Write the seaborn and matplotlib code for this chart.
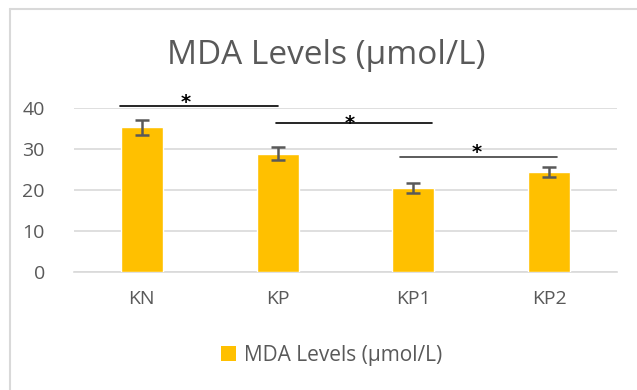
import matplotlib
matplotlib.use("Agg")
import matplotlib.pyplot as plt
import seaborn as sns
import pandas as pd
from matplotlib.patches import Patch
from matplotlib.lines import Line2D

categories = ["KN", "KP", "KP1", "KP2"]
mda_values = [35.3, 28.9, 20.5, 24.4]
mda_errors = [1.8, 1.6, 1.2, 1.3]
series_name = "MDA Levels (µmol/L)"
title = "MDA Levels (µmol/L)"
y_ticks = [0, 10, 20, 30, 40]
# significance brackets: (x_start, x_end, y)
sig_lines = [(-0.16, 1.0, 40.5), (0.99, 2.14, 36.3), (1.9, 3.06, 28.0)]
sig_stars = [(0.32, 39.9), (1.53, 34.8), (2.47, 27.7)]

sns.set_theme(style="white")
plt.rcParams["font.family"] = ["Open Sans", "DejaVu Sans"]

df = pd.DataFrame({"cat": categories, "val": mda_values})

fig = plt.figure(figsize=(6.37, 3.90), dpi=100)
ax = fig.add_axes([74/637, 1-272/390, (617-74)/637, (272-108)/390])

bar_color = "#FFC000"
sns.barplot(data=df, x="cat", y="val", color=bar_color, width=0.31,
            errorbar=None, ax=ax, saturation=1, zorder=3)
ax.errorbar(range(len(categories)), mda_values, yerr=mda_errors, fmt="none",
            ecolor="#595959", elinewidth=1.8, capsize=5, capthick=1.8, zorder=4)

ax.set_xlim(-0.5, 3.5)
ax.set_ylim(0, 40)
ax.set_yticks(y_ticks)
ax.yaxis.grid(True, color="#d9d9d9", linewidth=1.2, zorder=0)
ax.set_axisbelow(True)
for s in ["top", "right", "left"]:
    ax.spines[s].set_visible(False)
ax.spines["bottom"].set_color("#d9d9d9")
ax.spines["bottom"].set_linewidth(1.2)
ax.set_xlabel("")
ax.set_ylabel("")
ax.tick_params(axis="both", colors="#595959", labelsize=14, length=0)
ax.tick_params(axis="y", pad=21)
ax.tick_params(axis="x", pad=13)

line_colors = ["black", "black", "#404040"]
for (x0, x1, y), c in zip(sig_lines, line_colors):
    ax.plot([x0, x1], [y, y], color=c, lw=1.2, clip_on=False, zorder=5)
for x, y in sig_stars:
    ax.text(x, y, "*", ha="center", va="baseline", fontsize=14, fontweight="bold",
            color="black", clip_on=False, family="DejaVu Sans")

fig.text(326/637, 1-55/390, title, ha="center", va="center", fontsize=24, color="#595959")

leg = fig.legend(handles=[Patch(facecolor=bar_color, edgecolor="none")], labels=[series_name],
                 loc="center", bbox_to_anchor=(332/637, 1-355/390), frameon=False,
                 fontsize=15, handlelength=0.7, handleheight=0.7, handletextpad=0.4)
for t in leg.get_texts():
    t.set_color("#595959")

# chart border (left & top visible)
fig.add_artist(Line2D([10/637, 10/637], [0, 1-9/390], color="#d9d9d9", lw=1.5, transform=fig.transFigure))
fig.add_artist(Line2D([10/637, 1], [1-9/390, 1-9/390], color="#d9d9d9", lw=1.5, transform=fig.transFigure))

fig.savefig("out.png", dpi=100)
